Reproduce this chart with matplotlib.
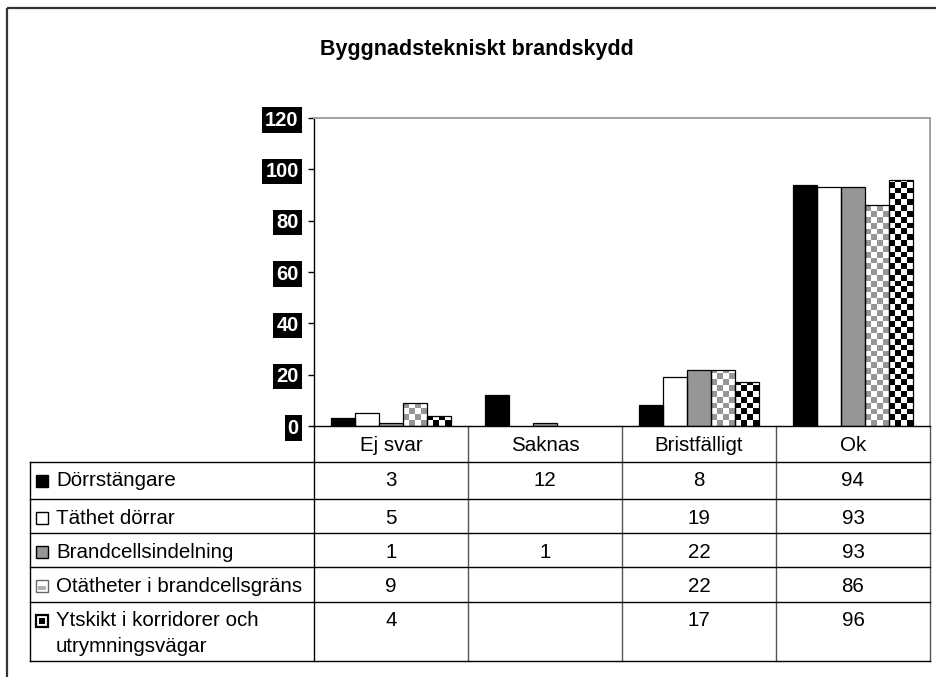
import numpy as np
import matplotlib.pyplot as plt
from matplotlib.colors import to_rgb
from matplotlib.patches import Rectangle

plt.rcParams['font.family'] = ['Liberation Sans', 'DejaVu Sans']

# data
categories = ['Ej svar', 'Saknas', 'Bristfälligt', 'Ok']
series_names = ['Dörrstängare', 'Täthet dörrar', 'Brandcellsindelning',
                'Otätheter i brandcellsgräns',
                'Ytskikt i korridorer och\nutrymningsvägar']
dorrstangare = [3, 12, 8, 94]
tathet_dorrar = [5, None, 19, 93]
brandcellsindelning = [1, 1, 22, 93]
otatheter = [9, None, 22, 86]
ytskikt = [4, None, 17, 96]
y_ticks = [0, 20, 40, 60, 80, 100, 120]

series_values = [dorrstangare, tathet_dorrar, brandcellsindelning, otatheter, ytskikt]

# styles
faces = ['black', 'white', '#969696', 'white', 'white']
checkers = [None, None, None, ('white', '#969696'), ('white', 'black')]
CELL = 5.8  # checker square size in pixels
FS = 14.8


def checker_fill(ax, bar, colors):
    x0, y0 = bar.get_x(), bar.get_y()
    w, h = bar.get_width(), bar.get_height()
    if not np.isfinite(h) or h <= 0:
        return
    inv = ax.transData.inverted()
    p0 = inv.transform((0, 0))
    p1 = inv.transform((CELL, CELL))
    dx, dy = p1 - p0
    nc = int(np.ceil(w / dx))
    nr = int(np.ceil(h / dy))
    grid = np.add.outer(np.arange(nr), np.arange(nc)) % 2
    rgb = np.array([to_rgb(colors[0]), to_rgb(colors[1])])[grid]
    im = ax.imshow(rgb, extent=(x0, x0 + nc * dx, y0, y0 + nr * dy),
                   origin='lower', interpolation='nearest', aspect='auto', zorder=1.5)
    im.set_clip_path(bar)


W, H = 937, 677
fig = plt.figure(figsize=(W / 100, H / 100), dpi=100)

# background layer in pixel coordinates for the data table and frame
bg = fig.add_axes([0, 0, 1, 1])
bg.set_xlim(0, W)
bg.set_ylim(H, 0)
bg.axis('off')

ax_left, ax_right, ax_top, ax_bottom = 314, 930, 118, 426
ax = fig.add_axes([ax_left / W, 1 - ax_bottom / H,
                   (ax_right - ax_left) / W, (ax_bottom - ax_top) / H])
ax.set_facecolor('none')
ax.set_xlim(-0.5, 3.5)
ax.set_ylim(0, 120)

x = np.arange(len(categories))
bw = 0.156
for i, vals in enumerate(series_values):
    heights = np.array(vals, dtype=float)
    pos = x + (i - 2) * bw
    bars = ax.bar(pos, heights, bw, color=faces[i], edgecolor='none', zorder=1)
    if checkers[i] is not None:
        for b in bars:
            checker_fill(ax, b, checkers[i])
    ax.bar(pos, heights, bw, fill=False, edgecolor='black', linewidth=0.9, zorder=2)

ax.set_xlim(-0.5, 3.5)
ax.set_ylim(0, 120)

ax.set_yticks(y_ticks)
ax.tick_params(axis='y', direction='out', length=4, width=1, pad=7,
               labelsize=14.5, labelcolor='white')
for lab in ax.get_yticklabels():
    lab.set_fontweight('bold')
    lab.set_bbox(dict(facecolor='black', edgecolor='none', pad=2.2))

ax.set_xticks(x, categories)
ax.tick_params(axis='x', length=0, pad=7, labelsize=FS)

for s in ['left', 'bottom']:
    ax.spines[s].set_color('black')
    ax.spines[s].set_linewidth(1)
for s in ['top', 'right']:
    ax.spines[s].set_color('#9a9a9a')
    ax.spines[s].set_linewidth(1.3)

# outer frame
bg.add_patch(Rectangle((7, 8), 2000, 2000, fill=False, edgecolor='#333333', lw=1.6))

# title
bg.text(477, 50, 'Byggnadstekniskt brandskydd', ha='center', va='center',
        fontsize=15.5, fontweight='bold')

# data table
row_edges = [462, 499, 533, 567, 602, 661]
col_w = (ax_right - ax_left) / len(categories)
tab_left = 30

bg.plot([ax_left, ax_left], [ax_bottom, row_edges[-1]], color='black', lw=1)
for j in range(1, len(categories) + 1):
    xx = ax_left + j * col_w
    bg.plot([xx, xx], [ax_bottom, row_edges[-1]], color='#555555', lw=1)
bg.plot([tab_left, tab_left], [row_edges[0], row_edges[-1]], color='black', lw=1)
for yy in row_edges:
    bg.plot([tab_left, ax_right], [yy, yy], color='black', lw=1)

for i, (name, vals) in enumerate(zip(series_names, series_values)):
    top = row_edges[i]
    yc = top + 19
    # legend key
    kx, ky, ks = 36, yc - 6, 12
    if checkers[i] is None:
        bg.add_patch(Rectangle((kx, ky), ks, ks, facecolor=faces[i],
                               edgecolor='black', lw=1))
    elif i == 3:
        bg.add_patch(Rectangle((kx, ky), ks, ks, facecolor='white',
                               edgecolor='#666666', lw=1))
        bg.add_patch(Rectangle((kx + 2, ky + 6), ks - 4, ks - 8,
                               facecolor='#b0b0b0', edgecolor='none'))
    else:
        bg.add_patch(Rectangle((kx, ky), ks, ks, facecolor='white',
                               edgecolor='black', lw=1.6))
        bg.add_patch(Rectangle((kx + 3, ky + 3), ks - 6, ks - 6,
                               facecolor='black', edgecolor='none'))
    for k, line in enumerate(name.split('\n')):
        bg.text(56, yc + k * 26, line, ha='left', va='center', fontsize=FS)
    for j, v in enumerate(vals):
        if v is not None:
            bg.text(ax_left + (j + 0.5) * col_w, yc, str(v), ha='center',
                    va='center', fontsize=FS)

fig.savefig('out.png', dpi=100)
